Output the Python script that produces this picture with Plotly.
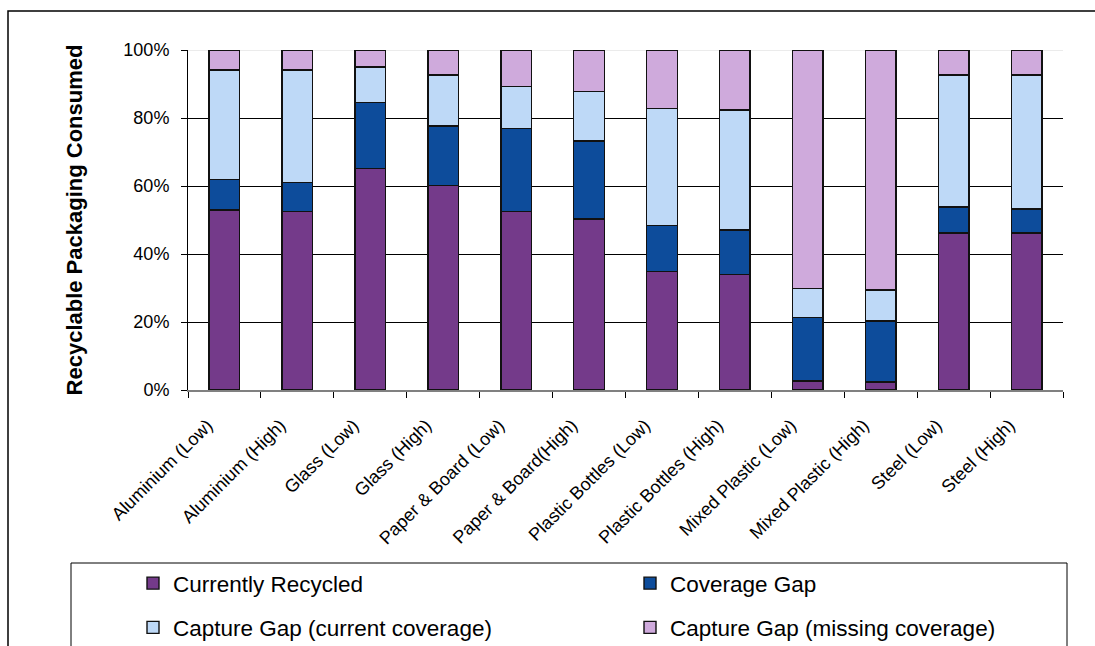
import plotly.graph_objects as go

# Packaging categories (low / high scenarios)
categories = [
    "Aluminium (Low)", "Aluminium (High)", "Glass (Low)", "Glass (High)",
    "Paper & Board (Low)", "Paper & Board(High)", "Plastic Bottles (Low)",
    "Plastic Bottles (High)", "Mixed Plastic (Low)", "Mixed Plastic (High)",
    "Steel (Low)", "Steel (High)",
]

# Share of recyclable packaging consumed (%)
currently_recycled = [52.9, 52.5, 65.2, 60.1, 52.5, 50.3, 34.8, 33.9, 2.6, 2.3, 46.2, 46.2]
coverage_gap = [9.1, 8.6, 19.4, 17.6, 24.5, 22.9, 13.6, 13.2, 18.7, 18.0, 7.6, 7.0]
capture_gap_current = [32.1, 33.0, 10.4, 14.9, 12.2, 14.6, 34.4, 35.3, 8.5, 9.1, 38.8, 39.4]
capture_gap_missing = [5.9, 5.9, 5.0, 7.4, 10.8, 12.2, 17.2, 17.6, 70.2, 70.6, 7.4, 7.4]

series_names = [
    "Currently Recycled", "Coverage Gap",
    "Capture Gap (current coverage)", "Capture Gap (missing coverage)",
]
y_ticks = [0, 20, 40, 60, 80, 100]
y_tick_labels = ["0%", "20%", "40%", "60%", "80%", "100%"]

FONT = "Arial, Liberation Sans, sans-serif"
colors = ["#743A8A", "#0D4C9B", "#BED9F7", "#CFAADC"]
series_values = [currently_recycled, coverage_gap, capture_gap_current, capture_gap_missing]
legend_ids = ["legend", "legend2", "legend", "legend2"]

fig = go.Figure()
for i, (name, vals) in enumerate(zip(series_names, series_values)):
    fig.add_trace(go.Bar(
        name=name,
        x=categories,
        y=vals,
        marker=dict(color=colors[i], line=dict(color="#111111", width=1.4)),
        legend=legend_ids[i],
        legendgroup=f"g{i}",
        hovertemplate="%{x}<br>" + name + ": %{y:.1f}%<extra></extra>",
    ))

W, H = 1095, 646
L, R, T, B = 188, 32, 50, 256
pw, ph = W - L - R, H - T - B


def px_x(p):
    return (p - L) / pw


def px_y(p):
    return (H - B - p) / ph


legend_common = dict(
    orientation="v",
    yanchor="top",
    xanchor="left",
    bgcolor="rgba(0,0,0,0)",
    borderwidth=0,
    font=dict(family=FONT, size=22.5, color="#000000"),
    tracegroupgap=12,
    traceorder="grouped",
)

fig.update_layout(
    width=W,
    height=H,
    margin=dict(l=L, r=R, t=T, b=B, autoexpand=False),
    paper_bgcolor="#ffffff",
    plot_bgcolor="#ffffff",
    barmode="stack",
    bargap=0.58,
    font=dict(family=FONT, size=18, color="#000000"),
    legend=dict(x=px_x(133), y=px_y(562), **legend_common),
    legend2=dict(x=px_x(630), y=px_y(562), **legend_common),
    xaxis=dict(
        type="category",
        showline=True,
        linecolor="#808080",
        linewidth=1.5,
        ticks="outside",
        tickson="boundaries",
        ticklen=6,
        tickcolor="#000000",
        tickangle=-45,
        tickfont=dict(family=FONT, size=18),
        ticklabelstandoff=16,
        ticklabelshift=-17,
        showgrid=False,
    ),
    yaxis=dict(
        range=[0, 100],
        tickmode="array",
        tickvals=y_ticks,
        ticktext=y_tick_labels,
        showline=True,
        linecolor="#000000",
        linewidth=1,
        ticks="outside",
        ticklen=6,
        tickcolor="#000000",
        ticklabelstandoff=8,
        showgrid=True,
        gridcolor="#000000",
        gridwidth=1,
        zeroline=False,
        tickfont=dict(family=FONT, size=18),
        title=dict(
            text="<b>Recyclable Packaging Consumed</b>",
            font=dict(family=FONT, size=22),
            standoff=34,
        ),
    ),
    shapes=[
        # light top gridline at 100%
        dict(type="line", xref="paper", yref="y", x0=0, x1=1, y0=100, y1=100,
             line=dict(color="#E4E4E4", width=1.5), layer="below"),
        # outer chart frame
        dict(type="rect", xref="paper", yref="paper",
             x0=px_x(8), x1=px_x(1130), y0=px_y(11), y1=px_y(700),
             line=dict(color="#000000", width=1.5), layer="below"),
        # legend frame
        dict(type="rect", xref="paper", yref="paper",
             x0=px_x(71), x1=px_x(1067), y0=px_y(563), y1=px_y(700),
             line=dict(color="#000000", width=1), layer="below"),
    ],
)

fig.write_html("out.html")
